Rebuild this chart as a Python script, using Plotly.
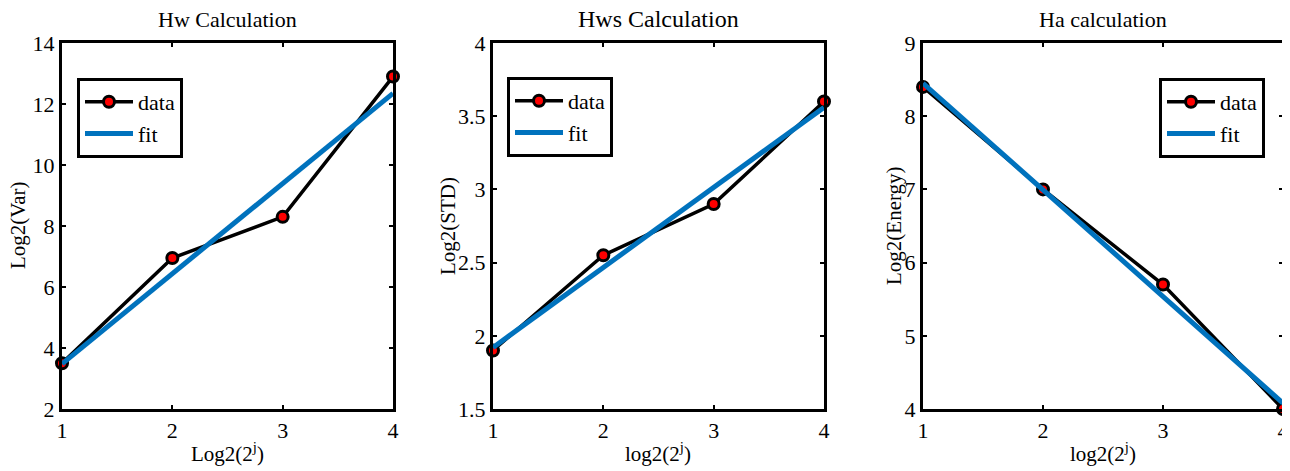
import plotly.graph_objects as go

x_vals = [1, 2, 3, 4]
hw_data = [3.5, 6.95, 8.3, 12.9]
hws_data = [1.9, 2.55, 2.9, 3.6]
ha_data = [8.4, 7.0, 5.7, 4.0]

fit_x = [1, 4]
hw_fit = [3.48, 12.35]
hws_fit = [1.92, 3.56]
ha_fit = [8.45, 4.08]

titles = ["Hw Calculation", "Hws Calculation", "Ha calculation"]
y_labels = ["Log2(Var)", "Log2(STD)", "Log2(Energy)"]
x_labels = ["Log2(2<sup>j</sup>)", "log2(2<sup>j</sup>)", "log2(2<sup>j</sup>)"]
y_ranges = [[2, 14], [1.5, 4], [4, 9]]
y_dticks = [2, 0.5, 1]

FONT = "Liberation Serif, Times New Roman, serif"
OFF = 8  # page body margin
W, H = 1290 - OFF, 471 - OFF


def px(xr):
    return (xr - OFF) / W


def py(yr):
    return 1 - (yr - OFF) / H


x_px = [(62, 393), (493, 824), (923, 1283)]
y_top, y_bot = 43, 409
ydom = [py(y_bot), py(y_top)]

fig = go.Figure()
datas = [hw_data, hws_data, ha_data]
fits = [hw_fit, hws_fit, ha_fit]
legend_pos = [(77, 78), (507, 77), (1159, 78)]

for i in range(3):
    xa = "x" if i == 0 else f"x{i+1}"
    ya = "y" if i == 0 else f"y{i+1}"
    lg = "legend" if i == 0 else f"legend{i+1}"
    fig.add_trace(go.Scatter(
        x=x_vals, y=datas[i], mode="lines+markers", name="data",
        line=dict(color="black", width=3.5),
        marker=dict(color="red", size=11, line=dict(color="black", width=3)),
        xaxis=xa, yaxis=ya, legend=lg, cliponaxis=False))
    fig.add_trace(go.Scatter(
        x=fit_x, y=fits[i], mode="lines", name="fit",
        line=dict(color="#0072BD", width=5),
        xaxis=xa, yaxis=ya, legend=lg, cliponaxis=False))

layout = dict(
    width=W, height=H,
    margin=dict(l=0, r=0, t=0, b=0, autoexpand=False),
    paper_bgcolor="white", plot_bgcolor="white",
    font=dict(family=FONT, size=18, color="black"),
)
annotations = []
for i in range(3):
    sfx = "" if i == 0 else str(i + 1)
    x0, x1 = x_px[i]
    layout["xaxis" + sfx] = dict(
        domain=[px(x0), px(x1)], range=[1, 4], dtick=1, tick0=1,
        anchor="y" + sfx, showgrid=False, zeroline=False,
        showline=True, linecolor="black", linewidth=3, mirror="allticks",
        ticks="inside", ticklen=4, tickwidth=2, tickcolor="black",
        tickfont=dict(family=FONT, size=22), ticklabelstandoff=0,
    )
    layout["yaxis" + sfx] = dict(
        domain=ydom, range=y_ranges[i], dtick=y_dticks[i],
        anchor="x" + sfx, showgrid=False, zeroline=False,
        showline=True, linecolor="black", linewidth=3, mirror="allticks",
        ticks="inside", ticklen=4, tickwidth=2, tickcolor="black",
        tickfont=dict(family=FONT, size=22), ticklabelstandoff=0,
    )
    lx, ly = legend_pos[i]
    layout["legend" if i == 0 else f"legend{i+1}"] = dict(
        x=px(lx), y=py(ly), xanchor="left", yanchor="top",
        bordercolor="black", borderwidth=3, bgcolor="white",
        font=dict(family=FONT, size=22), itemwidth=48,
        tracegroupgap=0,
    )
    cx = (x0 + x1) / 2
    annotations.append(dict(text=titles[i], x=px(cx), y=py(19), xref="paper", yref="paper",
                            showarrow=False, font=dict(family=FONT, size=22 if i != 1 else 24),
                            xanchor="center", yanchor="middle"))
    annotations.append(dict(text=x_labels[i], x=px(cx), y=py(452), xref="paper", yref="paper",
                            showarrow=False, font=dict(family=FONT, size=21),
                            xanchor="center", yanchor="middle"))
ylab_x = [18, 448, 894]
for i in range(3):
    annotations.append(dict(text=y_labels[i], x=px(ylab_x[i]), y=py(226), xref="paper", yref="paper",
                            showarrow=False, textangle=-90, font=dict(family=FONT, size=21),
                            xanchor="center", yanchor="middle"))
layout["annotations"] = annotations
layout["showlegend"] = True
fig.update_layout(**layout)
fig.write_html("out.html")
